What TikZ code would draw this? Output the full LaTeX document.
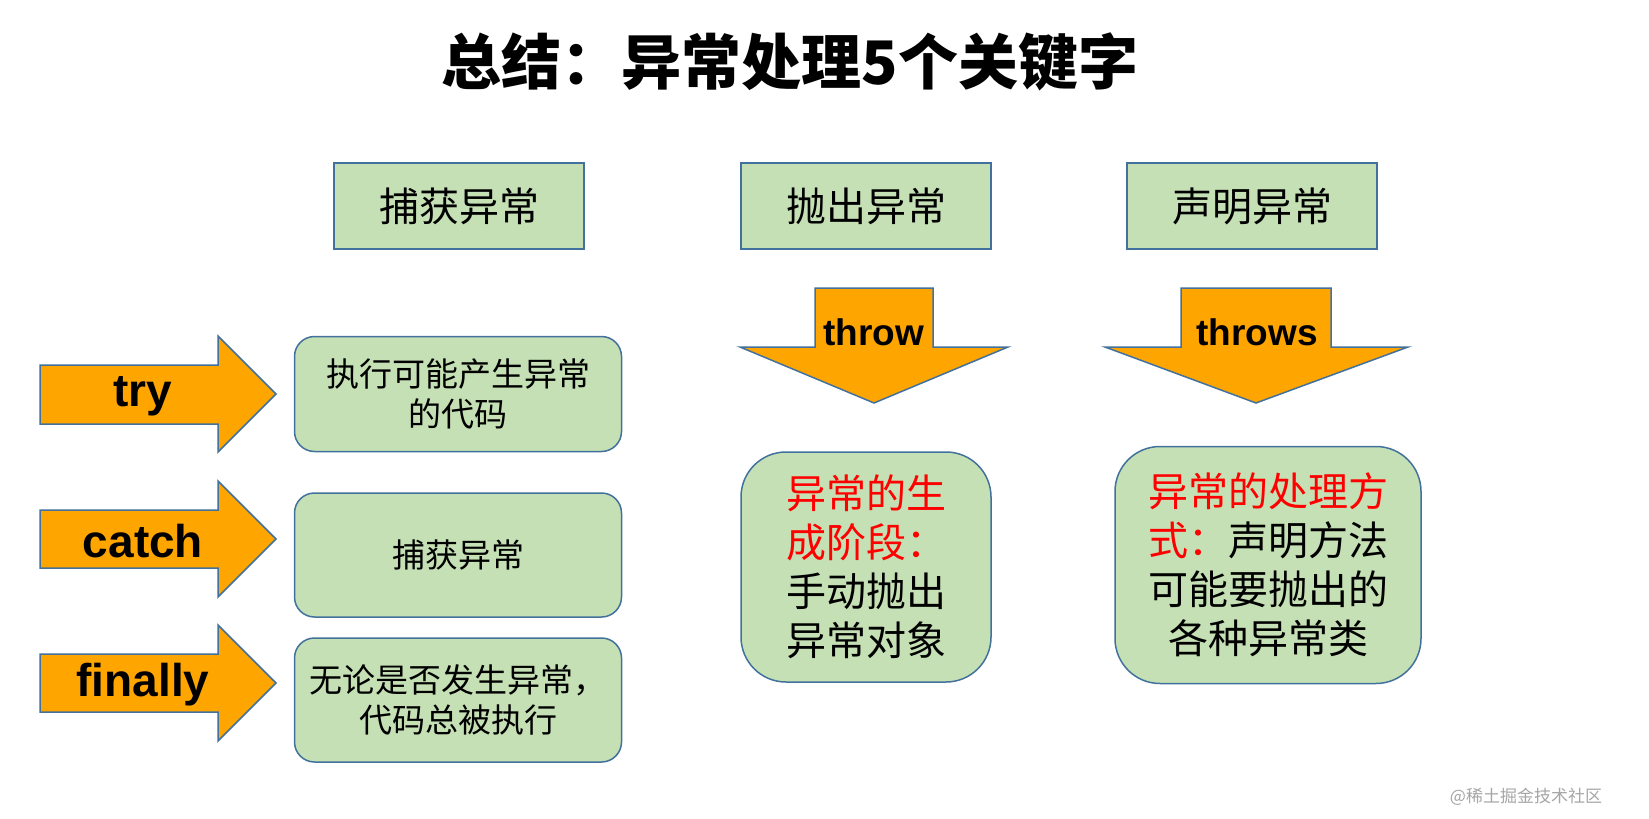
\documentclass[tikz,border=0pt]{standalone}
\usepackage{fontspec}
\setmainfont{Noto Sans CJK SC}
\newfontfamily\arialfont{Liberation Sans}
\usetikzlibrary{positioning}

\definecolor{boxgreen}{RGB}{197,224,180}
\definecolor{boxline}{RGB}{65,113,156}
\definecolor{arroworange}{RGB}{255,165,0}

\tikzset{
  headbox/.style={draw=boxline, line width=1.5pt, fill=boxgreen, minimum width=250pt, minimum height=86pt, font=\fontsize{40}{48}\selectfont},
  infobox/.style={draw=boxline, line width=1.5pt, fill=boxgreen, rounded corners=20pt, minimum width=327pt, align=center, font=\fontsize{33}{40}\selectfont},
  bigbox/.style={draw=boxline, line width=1.5pt, fill=boxgreen, rounded corners=45pt, align=center, font=\fontsize{40}{49}\selectfont},
  blockarrow/.style={draw=boxline, line width=1.5pt, fill=arroworange, line join=miter},
  keyword/.style={font=\arialfont\bfseries\fontsize{46}{46}\selectfont}
}

\begin{document}
\begin{tikzpicture}[x=1pt, y=-1pt]
  \fill[white] (0,0) rectangle (1649,819);
  \useasboundingbox (0,0) rectangle (1649,819);
  \node[font=\bfseries\fontsize{60}{72}\selectfont] (title) at (790,62) {总结：异常处理5个关键字};

  % column heads
  \node[headbox] (catchhead) at (459,206) {捕获异常};
  \node[headbox] (throwhead) at (866,206) {抛出异常};
  \node[headbox] (throwshead) at (1252,206) {声明异常};

  % try / catch / finally
  \draw[blockarrow] (40,365) -- (218,365) -- (218,336) -- (276,394) -- (218,452) -- (218,424) -- (40,424) -- cycle;
  \draw[blockarrow] (40,510) -- (218,510) -- (218,481) -- (276,539) -- (218,597) -- (218,568) -- (40,568) -- cycle;
  \draw[blockarrow] (40,654) -- (218,654) -- (218,625) -- (276,683) -- (218,741) -- (218,712) -- (40,712) -- cycle;
  \node[keyword] (try) at (143,396) {try};
  \node[keyword] (catch) at (143,541) {catch};
  \node[keyword] (finally) at (143,685) {finally};

  \node[infobox, minimum height=115pt] (trybox) at (458,394) {执行可能产生异常\\的代码};
  \node[infobox, minimum height=124pt] (catchbox) at (458,555) {捕获异常};
  \node[infobox, minimum height=124pt] (finallybox) at (458,700) {无论是否发生异常，\\代码总被执行};

  % throw / throws
  \draw[blockarrow] (815,288) -- (933,288) -- (933,347) -- (1008,347) -- (874,403) -- (740,347) -- (815,347) -- cycle;
  \draw[blockarrow] (1181,288) -- (1331,288) -- (1331,347) -- (1408,347) -- (1256,403) -- (1105,347) -- (1181,347) -- cycle;
  \node[keyword, font=\arialfont\bfseries\fontsize{37}{37}\selectfont] (throw) at (874,332) {throw};
  \node[keyword, font=\arialfont\bfseries\fontsize{37}{37}\selectfont] (throws) at (1257,332) {throws};

  \node[bigbox, minimum width=250pt, minimum height=230pt] (throwbox) at (866,567)
    {\textcolor{red}{异常的生}\\\textcolor{red}{成阶段：}\\手动抛出\\异常对象};
  \node[bigbox, minimum width=306pt, minimum height=237pt] (throwsbox) at (1268,565)
    {\textcolor{red}{异常的处理方}\\\textcolor{red}{式：}声明方法\\可能要抛出的\\各种异常类};

  \node[text=gray!70, font=\fontsize{17}{17}\selectfont] (mark) at (1526,797) {@稀土掘金技术社区};
\end{tikzpicture}
\end{document}
